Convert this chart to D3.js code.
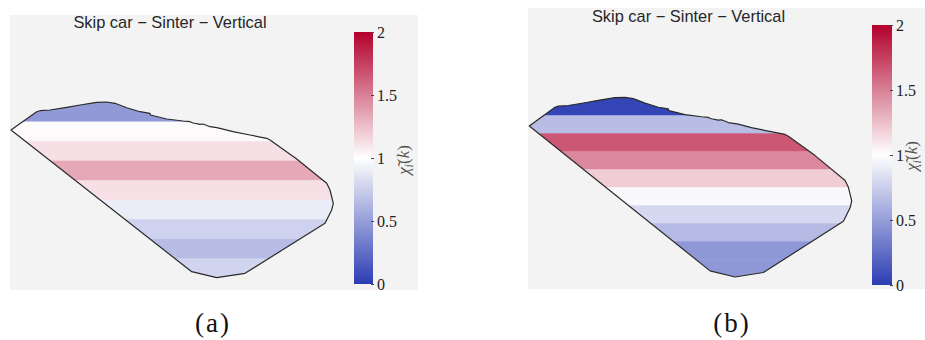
<!DOCTYPE html>
<html>
<head>
<meta charset="utf-8">
<script src="https://cdn.jsdelivr.net/npm/d3@7"></script>
<style>
  html, body { margin: 0; padding: 0; background: #ffffff; }
  svg { display: block; }
</style>
</head>
<body>
<svg id="fig" width="925" height="340"></svg>
<script>
// Cross-section outline of the skip car (width / height units, origin at bottom-left)
const outlineX = [0, 25.7, 29, 39, 55.7, 69, 85.7, 95.7, 104, 115.7, 129, 139, 139.5, 155.7, 172, 179,
  182, 189, 192, 199, 205.7, 209, 222, 239, 255.7, 259, 285.7, 315.7, 319, 322.3, 320.7, 314, 234, 205.7, 180.7];
const outlineY = [148, 166.3, 167.3, 168, 170.7, 173, 175.7, 176, 174.7, 170.3, 166.3, 164.7, 163, 159, 157, 156.3,
  155, 153.7, 154, 151.3, 150.3, 149.7, 146.3, 143, 139.7, 138, 119, 94.7, 88, 74.7, 68, 54.7, 4.7, 0.3, 6.3];
const carWidth = 322.3;
const carHeight = 176;

// Layer values chi_i(k), listed from the top layer down
const layersA = [0.48, 1.02, 1.12, 1.34, 1.12, 0.9, 0.77, 0.66, 0.78];
const layersB = [0.04, 0.66, 1.66, 1.47, 1.2, 0.97, 0.8, 0.65, 0.47, 0.47];

// Colour bar
const colorDomain = [0, 1, 2];
const colorRange = ["#2c3db3", "#ffffff", "#b2002c"];
const colorTicks = [0, 0.5, 1, 1.5, 2];
const colorTickLabels = ["0", "0.5", "1", "1.5", "2"];

const titleText = "Skip car \u2212 Sinter \u2212 Vertical";
const captions = ["(a)", "(b)"];

const serif = "'Liberation Serif', 'Times New Roman', serif";

const panels = [
  { layers: layersA, caption: captions[0],
    bg: [10, 15, 408, 275], title: [170, 28],
    xr: [11, 333.3], yr: [278, 102],
    cb: [354, 32, 19, 252], cbLabel: [409, 160], cap: [213, 332] },
  { layers: layersB, caption: captions[1],
    bg: [528, 8, 400, 281], title: [688.5, 21.5],
    xr: [529.3, 851.7], yr: [277.3, 97.3],
    cb: [872, 25, 20, 260], cbLabel: [917, 156], cap: [732, 332] }
];

const svg = d3.select("#fig");
const defs = svg.append("defs");
const color = d3.scaleLinear().domain(colorDomain).range(colorRange).interpolate(d3.interpolateRgb);

const grad = defs.append("linearGradient").attr("id", "cbGrad")
  .attr("x1", 0).attr("y1", 1).attr("x2", 0).attr("y2", 0);
d3.range(0, 2.0001, 0.1).forEach(v => {
  grad.append("stop").attr("offset", v / 2).attr("stop-color", color(v));
});

const outline = outlineX.map((x, i) => [x, outlineY[i]]);

panels.forEach((p, pi) => {
  const g = svg.append("g");
  g.append("rect").attr("x", p.bg[0]).attr("y", p.bg[1])
    .attr("width", p.bg[2]).attr("height", p.bg[3]).attr("fill", "#f3f3f3");

  const x = d3.scaleLinear().domain([0, carWidth]).range(p.xr);
  const y = d3.scaleLinear().domain([0, carHeight]).range(p.yr);
  const line = d3.line().x(d => x(d[0])).y(d => y(d[1])).curve(d3.curveLinearClosed);

  const clipId = "clip" + pi;
  defs.append("clipPath").attr("id", clipId).append("path").attr("d", line(outline));

  const band = d3.scaleBand().domain(d3.range(p.layers.length))
    .range([y(carHeight), y(0)]);

  g.append("g").attr("clip-path", `url(#${clipId})`)
    .selectAll("rect").data(p.layers).join("rect")
    .attr("x", x(0) - 1)
    .attr("width", x(carWidth) - x(0) + 2)
    .attr("y", (d, i) => band(i))
    .attr("height", band.bandwidth() + 0.5)
    .attr("fill", d => color(d));

  g.append("path").attr("d", line(outline))
    .attr("fill", "none").attr("stroke", "#2a2a2a").attr("stroke-width", 1.2)
    .attr("stroke-linejoin", "round");

  g.append("text").attr("x", p.title[0]).attr("y", p.title[1])
    .attr("text-anchor", "middle")
    .attr("font-family", "'Liberation Sans', Arial, sans-serif")
    .attr("font-size", 16.4).attr("fill", "#262626")
    .text(titleText);

  // colour bar
  const [cx, cy, cw, ch] = p.cb;
  g.append("rect").attr("x", cx).attr("y", cy).attr("width", cw).attr("height", ch)
    .attr("fill", "url(#cbGrad)");
  const cs = d3.scaleLinear().domain([0, 2]).range([cy + ch, cy]);
  const axis = d3.axisRight(cs).tickValues(colorTicks)
    .tickFormat((d, i) => colorTickLabels[i]).tickSize(3).tickPadding(3);
  const ax = g.append("g").attr("transform", `translate(${cx + cw - 2},0)`).call(axis)
    .attr("font-family", serif).attr("font-size", 16);
  ax.select(".domain").remove();
  ax.selectAll(".tick line").attr("stroke", "#444").attr("stroke-width", 1);
  ax.selectAll(".tick text").attr("fill", "#222");

  const lab = g.append("text")
    .attr("transform", `translate(${p.cbLabel[0]},${p.cbLabel[1]}) rotate(-90)`)
    .attr("text-anchor", "middle")
    .attr("font-family", serif)
    .attr("font-size", 17).attr("fill", "#555");
  lab.append("tspan").attr("font-style", "italic").text("\u03C7\u0303");
  lab.append("tspan").attr("font-style", "italic").attr("font-size", 12).attr("dy", 4).text("i");
  lab.append("tspan").attr("dy", -4).text("(");
  lab.append("tspan").attr("font-style", "italic").text("k");
  lab.append("tspan").text(")");

  svg.append("text").attr("x", p.cap[0]).attr("y", p.cap[1])
    .attr("text-anchor", "middle")
    .attr("font-family", serif)
    .attr("font-size", 27).attr("letter-spacing", 2).attr("fill", "#111")
    .text(p.caption);
});
</script>
</body>
</html>
